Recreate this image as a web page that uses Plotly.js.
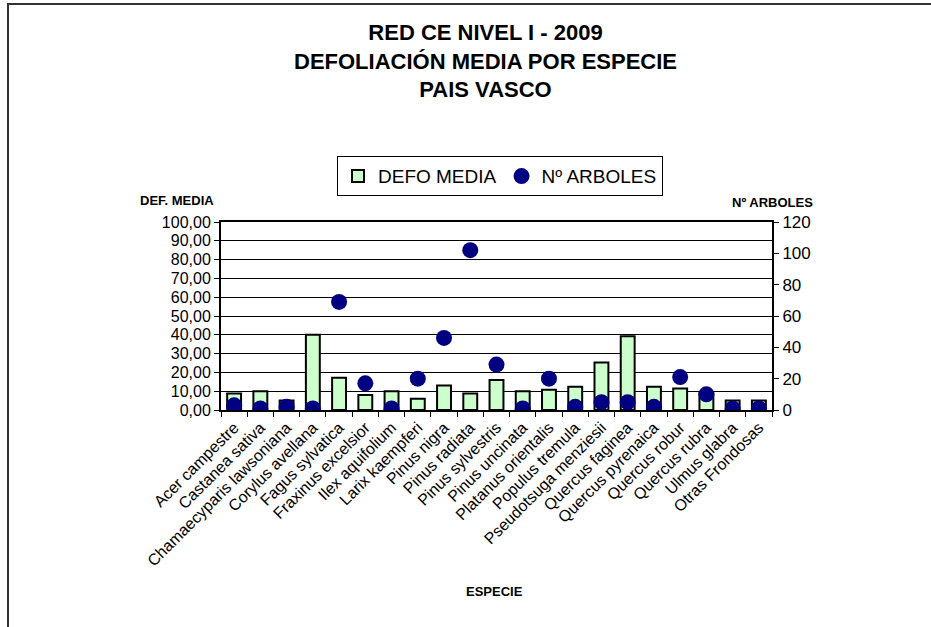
<!DOCTYPE html>
<html>
<head>
<meta charset="utf-8">
<script src="https://cdn.plot.ly/plotly-3.0.1.min.js"></script>
<style>
  html, body { margin: 0; padding: 0; background: #fff; }
  #wrap { position: relative; width: 931px; height: 627px; overflow: hidden; }
  #chart { position: absolute; left: 0; top: 0; width: 931px; height: 627px; }
  #frame { position: absolute; left: 7px; top: 3px; width: 1000px; height: 1000px;
           border-left: 2px solid #333; border-top: 2px solid #333; pointer-events: none; }
</style>
</head>
<body>
<div id="wrap">
  <div id="chart"></div>
  <div id="frame"></div>
</div>
<script>
const species = [
  "Acer campestre", "Castanea sativa", "Chamaecyparis lawsoniana", "Corylus avellana",
  "Fagus sylvatica", "Fraxinus excelsior", "Ilex aquifolium", "Larix kaempferi",
  "Pinus nigra", "Pinus radiata", "Pinus sylvestris", "Pinus uncinata",
  "Platanus orientalis", "Populus tremula", "Pseudotsuga menziesii", "Quercus faginea",
  "Quercus pyrenaica", "Quercus robur", "Quercus rubra", "Ulmus glabra", "Otras Frondosas"
];
const defoMedia = [8.8, 10, 5, 40, 17.2, 8, 10, 6, 13, 8.8, 16, 10, 10.8, 12.4, 25.2, 39.2, 12.4, 11.5, 9, 5, 5];
const numArboles = [3, 1, 2, 1, 69, 17, 1, 20, 46, 102, 29, 1, 20, 2, 5, 5, 2, 21, 10, 1, 1];
const leftTicks = [0, 10, 20, 30, 40, 50, 60, 70, 80, 90, 100];
const rightTicks = [0, 20, 40, 60, 80, 100, 120];
const titleLines = ["RED CE NIVEL I - 2009", "DEFOLIACIÓN MEDIA POR ESPECIE", "PAIS VASCO"];

const FONT = "Arial, 'Liberation Sans', sans-serif";

const traces = [
  {
    type: "bar", name: "DEFO MEDIA", x: species, y: defoMedia, yaxis: "y",
    marker: { color: "#ccffcc", line: { color: "#000", width: 2 } },
    hoverinfo: "x+y"
  },
  {
    type: "scatter", mode: "markers", name: "Nº ARBOLES", x: species, y: numArboles, yaxis: "y2",
    marker: { color: "#000080", size: 16, line: { width: 0 } },
    hoverinfo: "x+y"
  }
];

const layout = {
  width: 931, height: 627,
  paper_bgcolor: "rgba(0,0,0,0)", plot_bgcolor: "#fff",
  margin: { l: 221, r: 159, t: 222, b: 217 },
  font: { family: FONT, color: "#000" },
  separators: ",.",
  showlegend: true,
  bargap: 0.47,
  legend: {
    orientation: "h", x: 0.2105, xanchor: "left", y: 1.35, yanchor: "top",
    bordercolor: "#000", borderwidth: 1, bgcolor: "#fff",
    font: { family: FONT, size: 19, color: "#000" },
    itemwidth: 30, tracegroupgap: 0
  },
  xaxis: {
    type: "category", range: [-0.5, species.length - 0.5], tickangle: -45, tickson: "boundaries",
    ticks: "outside", ticklen: 5, tickcolor: "#000", tickwidth: 1,
    showline: true, linecolor: "#000", linewidth: 2, mirror: true,
    tickfont: { family: FONT, size: 16, color: "#000" },
    showgrid: false, fixedrange: true
  },
  yaxis: {
    range: [0, 100], tickvals: leftTicks, tickformat: ".2f",
    ticks: "outside", ticklen: 5, tickcolor: "#000", tickwidth: 1,
    showline: true, linecolor: "#000", linewidth: 2, mirror: true,
    showgrid: true, gridcolor: "#000", gridwidth: 1, zeroline: false,
    tickfont: { family: FONT, size: 16, color: "#000" }
  },
  yaxis2: {
    range: [0, 120], tickvals: rightTicks, overlaying: "y", side: "right",
    ticks: "outside", ticklen: 5, tickcolor: "#000", tickwidth: 1,
    showline: true, linecolor: "#000", linewidth: 2,
    showgrid: false, zeroline: false,
    tickfont: { family: FONT, size: 17, color: "#000" }
  },
  annotations: [
    { text: "<b>" + titleLines.join("<br>") + "</b>", xref: "paper", yref: "paper",
      x: (485 - 221) / 551, y: (410 - 61.5) / 188, xanchor: "center", yanchor: "middle",
      showarrow: false, font: { family: FONT, size: 22, color: "#000" } },
    { text: "<b>DEF. MEDIA</b>", xref: "paper", yref: "paper", x: -0.079, y: 1.114,
      xanchor: "center", yanchor: "middle", showarrow: false, font: { family: FONT, size: 13, color: "#000" } },
    { text: "<b>Nº ARBOLES</b>", xref: "paper", yref: "paper", x: 1.0018, y: 1.104,
      xanchor: "center", yanchor: "middle", showarrow: false, font: { family: FONT, size: 13, color: "#000" } },
    { text: "<b>ESPECIE</b>", xref: "paper", yref: "paper", x: 0.497, y: -0.968,
      xanchor: "center", yanchor: "middle", showarrow: false, font: { family: FONT, size: 13, color: "#000" } }
  ]
};

Plotly.newPlot("chart", traces, layout, { displayModeBar: false, staticPlot: true });
</script>
</body>
</html>
